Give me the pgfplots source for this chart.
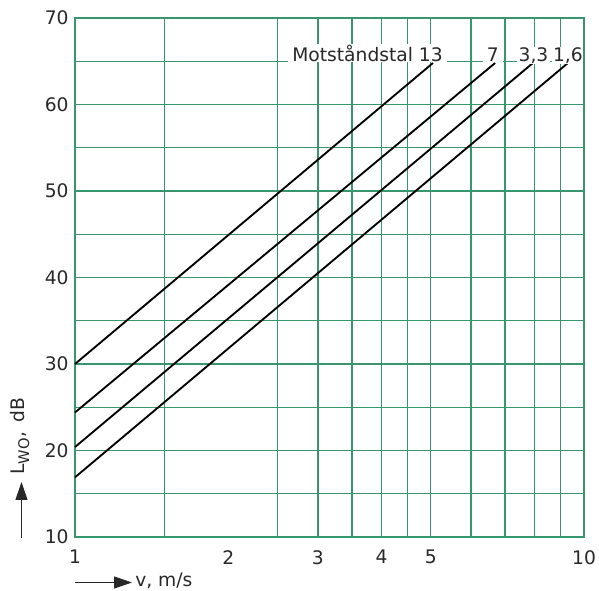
\documentclass[border=0pt]{standalone}
\usepackage{pgfplots}
\pgfplotsset{compat=1.18}
\usepackage{fontspec}
\setmainfont{DejaVu Sans}
\usetikzlibrary{arrows.meta}
\definecolor{gridgreen}{RGB}{55,150,110}
\definecolor{txt}{RGB}{40,40,40}
\def\u{0.75pt}
\begin{document}
\fontsize{14}{17}\selectfont
\begin{tikzpicture}
\begin{axis}[name=ax, scale only axis, width=381.75pt, height=389.25pt,
 xmode=log, xmin=1, xmax=10, ymin=10, ymax=70,
 xtick={1,2,3,4,5,10}, xticklabels={1,2,3,4,5,10},
 minor xtick={1.5,2.5,3,3.5,4,4.5,5,6,7,8,9},
 ytick={10,20,...,70}, minor ytick={15,25,...,65},
 xminorgrids, ymajorgrids, yminorgrids,
 major tick length=0pt, minor tick length=0pt,
 grid style={gridgreen, line width=1pt},
 minor grid style={gridgreen, line width=1pt},
 axis line style={gridgreen, line width=1.1pt},
 tick label style={font=\fontsize{14}{17}\selectfont, text=txt},
 /pgf/number format/assume math mode=true,
 xticklabel style={yshift=-5pt},
 clip=false,
]
\addplot[black, line width=1.4pt] coordinates {(1,30) (5.05,64.8)};
\addplot[black, line width=1.4pt] coordinates {(1,24.4) (6.69,64.8)};
\addplot[black, line width=1.4pt] coordinates {(1,20.4) (7.94,64.8)};
\addplot[black, line width=1.4pt] coordinates {(1,16.9) (9.30,64.8)};
\node[anchor=base east, fill=white, inner xsep=3pt, inner ysep=0.6pt, text=txt] at (axis cs:5.38,65) {Motståndstal 13};
\node[anchor=base, fill=white, inner xsep=3pt, inner ysep=0.6pt, text=txt] at (axis cs:6.62,65) {7};
\node[anchor=base, fill=white, inner xsep=1pt, inner ysep=0.6pt, text=txt] at (axis cs:7.96,65) {3,3};
\node[anchor=base, fill=white, inner xsep=0.5pt, inner ysep=0.6pt, text=txt] at (axis cs:9.30,65) {1,6};
\end{axis}
\draw[txt, line width=0.75pt, -{Triangle[length=13.5pt,width=9pt]}] ([shift={(-53.5*\u,-1*\u)}]ax.south west) -- ++(0,56*\u);
\node[rotate=90, anchor=west, text=txt, inner sep=0pt] at ([shift={(-55*\u,62*\u)}]ax.south west) {L\textsubscript{\fontsize{11}{12}\selectfont WO}, \,dB};
\draw[txt, line width=0.75pt, -{Triangle[length=13.5pt,width=9pt]}] ([shift={(0,-45.5*\u)}]ax.south west) -- ++(57*\u,0);
\node[anchor=base west, inner sep=0pt, text=txt] at ([shift={(60*\u,-49.5*\u)}]ax.south west) {v, m/s};
\pgfresetboundingbox
\path ([shift={(-75*\u,-54*\u)}]ax.south west) rectangle ([shift={(15*\u,18*\u)}]ax.north east);
\end{tikzpicture}
\end{document}
